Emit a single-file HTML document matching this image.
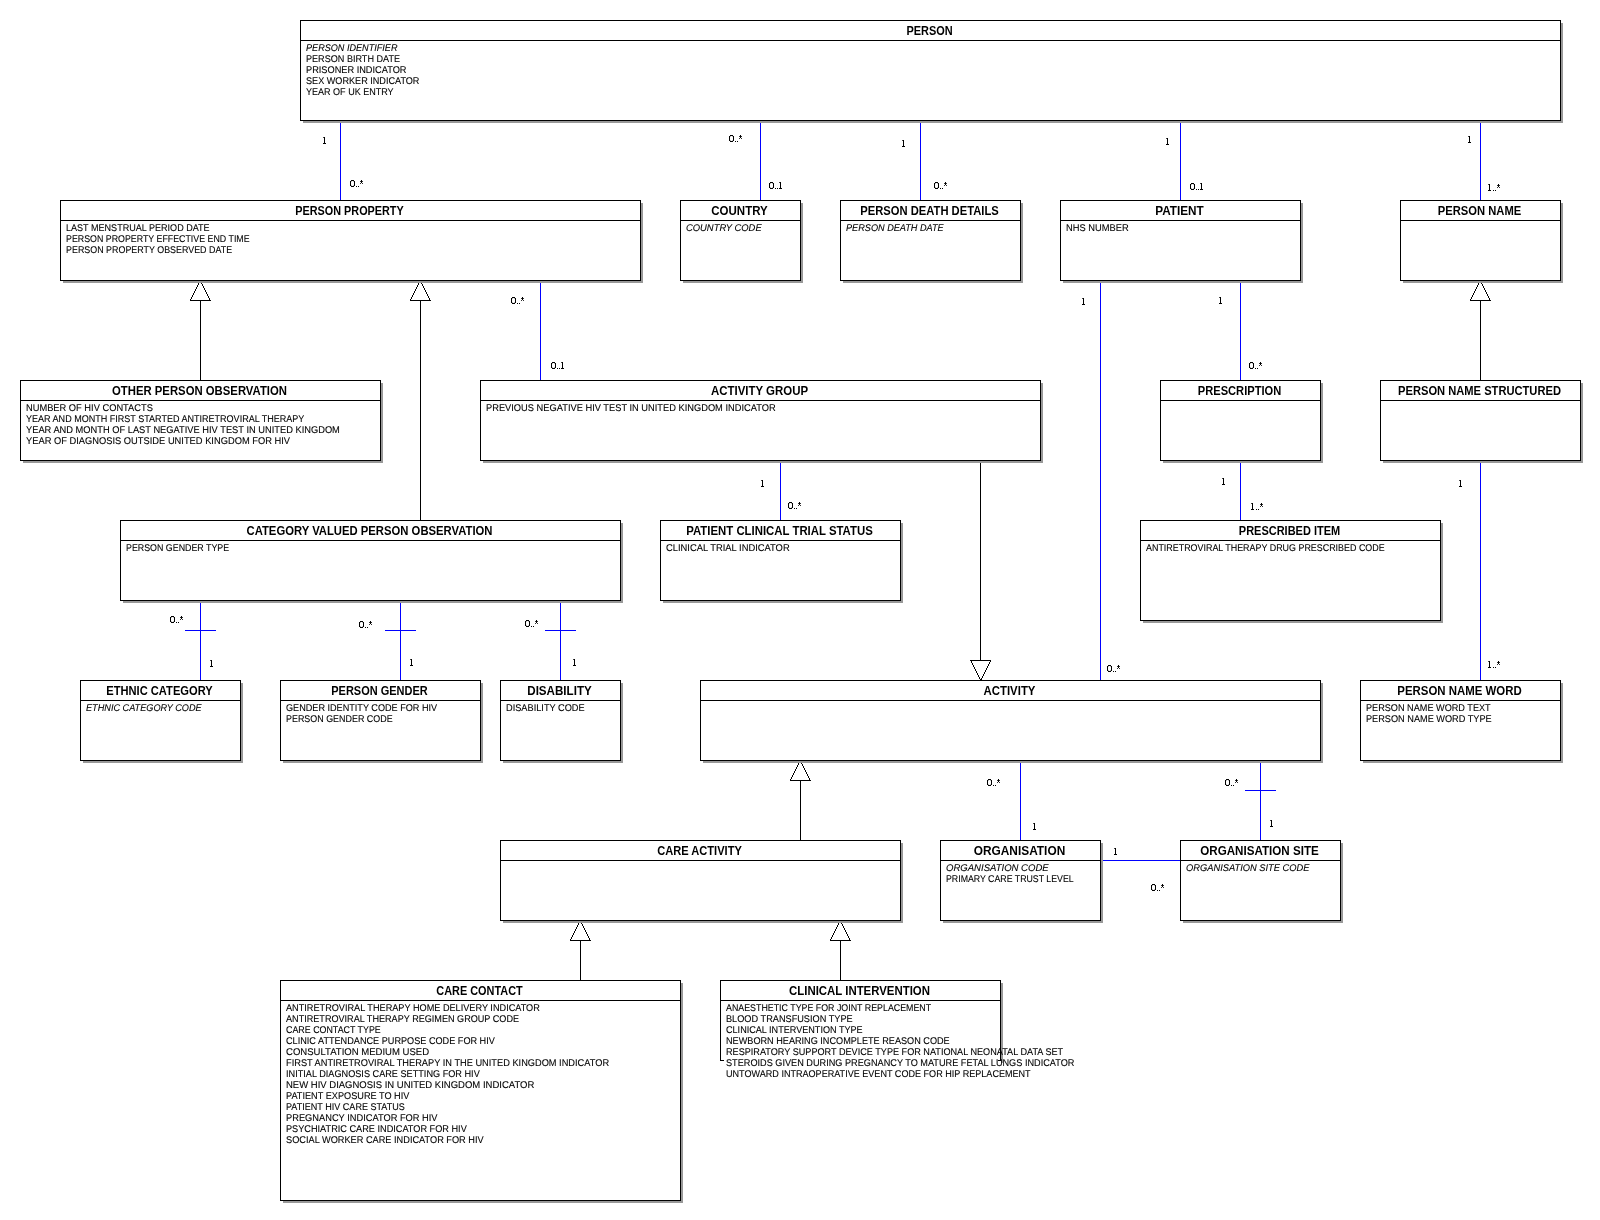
<!DOCTYPE html>
<html><head><meta charset="utf-8"><title>HIV data model</title><style>
html,body{margin:0;padding:0;background:#fff;width:1600px;height:1220px;overflow:hidden}
#c{position:relative;width:1600px;height:1220px}
#tl{position:absolute;left:0;top:0;width:1600px;height:1220px;will-change:transform}
.h,.a,.l{position:absolute;font-family:"Liberation Sans",sans-serif;color:#000;white-space:nowrap}
.h{font-weight:bold;font-size:12px;line-height:20px;text-align:center;transform:scaleX(0.925)}
.a{font-size:9.75px;line-height:11px;transform:scaleX(0.92);transform-origin:0 0;text-rendering:geometricPrecision;-webkit-text-stroke:0.1px #000}
.i{font-style:italic}
.l{font-size:9.75px;line-height:11px;transform:scaleX(0.92);transform-origin:0 0}
</style></head>
<body><div id="c">
<svg width="1600" height="1220" style="position:absolute;left:0;top:0" shape-rendering="crispEdges">
<line x1="340.5" y1="120" x2="340.5" y2="200" stroke="#0000ff" stroke-width="1"/>
<line x1="760.5" y1="120" x2="760.5" y2="200" stroke="#0000ff" stroke-width="1"/>
<line x1="920.5" y1="120" x2="920.5" y2="200" stroke="#0000ff" stroke-width="1"/>
<line x1="1180.5" y1="120" x2="1180.5" y2="200" stroke="#0000ff" stroke-width="1"/>
<line x1="1480.5" y1="120" x2="1480.5" y2="200" stroke="#0000ff" stroke-width="1"/>
<line x1="540.5" y1="280" x2="540.5" y2="380" stroke="#0000ff" stroke-width="1"/>
<line x1="1100.5" y1="280" x2="1100.5" y2="680" stroke="#0000ff" stroke-width="1"/>
<line x1="1240.5" y1="280" x2="1240.5" y2="380" stroke="#0000ff" stroke-width="1"/>
<line x1="780.5" y1="460" x2="780.5" y2="520" stroke="#0000ff" stroke-width="1"/>
<line x1="1240.5" y1="460" x2="1240.5" y2="520" stroke="#0000ff" stroke-width="1"/>
<line x1="1480.5" y1="460" x2="1480.5" y2="680" stroke="#0000ff" stroke-width="1"/>
<line x1="200.5" y1="600" x2="200.5" y2="680" stroke="#0000ff" stroke-width="1"/>
<line x1="400.5" y1="600" x2="400.5" y2="680" stroke="#0000ff" stroke-width="1"/>
<line x1="560.5" y1="600" x2="560.5" y2="680" stroke="#0000ff" stroke-width="1"/>
<line x1="1020.5" y1="760" x2="1020.5" y2="840" stroke="#0000ff" stroke-width="1"/>
<line x1="1260.5" y1="760" x2="1260.5" y2="840" stroke="#0000ff" stroke-width="1"/>
<line x1="1100" y1="860.5" x2="1180" y2="860.5" stroke="#0000ff" stroke-width="1"/>
<line x1="185" y1="630.5" x2="216" y2="630.5" stroke="#0000ff" stroke-width="1"/>
<line x1="385" y1="630.5" x2="416" y2="630.5" stroke="#0000ff" stroke-width="1"/>
<line x1="545" y1="630.5" x2="576" y2="630.5" stroke="#0000ff" stroke-width="1"/>
<line x1="1245" y1="790.5" x2="1276" y2="790.5" stroke="#0000ff" stroke-width="1"/>
<line x1="200.5" y1="380" x2="200.5" y2="300" stroke="#000" stroke-width="1"/>
<line x1="420.5" y1="520" x2="420.5" y2="300" stroke="#000" stroke-width="1"/>
<line x1="1480.5" y1="380" x2="1480.5" y2="300" stroke="#000" stroke-width="1"/>
<line x1="800.5" y1="840" x2="800.5" y2="780" stroke="#000" stroke-width="1"/>
<line x1="580.5" y1="980" x2="580.5" y2="940" stroke="#000" stroke-width="1"/>
<line x1="840.5" y1="980" x2="840.5" y2="940" stroke="#000" stroke-width="1"/>
<line x1="980.5" y1="460" x2="980.5" y2="660" stroke="#000" stroke-width="1"/>
<path fill="#000" d="M200 280h1v1h-1zM199 281h1v1h-1zM200 281h1v1h-1zM199 282h1v1h-1zM201 282h1v1h-1zM198 283h1v1h-1zM201 283h1v1h-1zM198 284h1v1h-1zM202 284h1v1h-1zM197 285h1v1h-1zM202 285h1v1h-1zM197 286h1v1h-1zM203 286h1v1h-1zM196 287h1v1h-1zM203 287h1v1h-1zM196 288h1v1h-1zM204 288h1v1h-1zM195 289h1v1h-1zM204 289h1v1h-1zM195 290h1v1h-1zM205 290h1v1h-1zM194 291h1v1h-1zM205 291h1v1h-1zM194 292h1v1h-1zM206 292h1v1h-1zM193 293h1v1h-1zM206 293h1v1h-1zM193 294h1v1h-1zM207 294h1v1h-1zM192 295h1v1h-1zM207 295h1v1h-1zM192 296h1v1h-1zM208 296h1v1h-1zM191 297h1v1h-1zM208 297h1v1h-1zM191 298h1v1h-1zM209 298h1v1h-1zM190 299h1v1h-1zM209 299h1v1h-1zM190 300h1v1h-1zM210 300h1v1h-1zM190 300h21v1h-21zM420 280h1v1h-1zM419 281h1v1h-1zM420 281h1v1h-1zM419 282h1v1h-1zM421 282h1v1h-1zM418 283h1v1h-1zM421 283h1v1h-1zM418 284h1v1h-1zM422 284h1v1h-1zM417 285h1v1h-1zM422 285h1v1h-1zM417 286h1v1h-1zM423 286h1v1h-1zM416 287h1v1h-1zM423 287h1v1h-1zM416 288h1v1h-1zM424 288h1v1h-1zM415 289h1v1h-1zM424 289h1v1h-1zM415 290h1v1h-1zM425 290h1v1h-1zM414 291h1v1h-1zM425 291h1v1h-1zM414 292h1v1h-1zM426 292h1v1h-1zM413 293h1v1h-1zM426 293h1v1h-1zM413 294h1v1h-1zM427 294h1v1h-1zM412 295h1v1h-1zM427 295h1v1h-1zM412 296h1v1h-1zM428 296h1v1h-1zM411 297h1v1h-1zM428 297h1v1h-1zM411 298h1v1h-1zM429 298h1v1h-1zM410 299h1v1h-1zM429 299h1v1h-1zM410 300h1v1h-1zM430 300h1v1h-1zM410 300h21v1h-21zM1480 280h1v1h-1zM1479 281h1v1h-1zM1480 281h1v1h-1zM1479 282h1v1h-1zM1481 282h1v1h-1zM1478 283h1v1h-1zM1481 283h1v1h-1zM1478 284h1v1h-1zM1482 284h1v1h-1zM1477 285h1v1h-1zM1482 285h1v1h-1zM1477 286h1v1h-1zM1483 286h1v1h-1zM1476 287h1v1h-1zM1483 287h1v1h-1zM1476 288h1v1h-1zM1484 288h1v1h-1zM1475 289h1v1h-1zM1484 289h1v1h-1zM1475 290h1v1h-1zM1485 290h1v1h-1zM1474 291h1v1h-1zM1485 291h1v1h-1zM1474 292h1v1h-1zM1486 292h1v1h-1zM1473 293h1v1h-1zM1486 293h1v1h-1zM1473 294h1v1h-1zM1487 294h1v1h-1zM1472 295h1v1h-1zM1487 295h1v1h-1zM1472 296h1v1h-1zM1488 296h1v1h-1zM1471 297h1v1h-1zM1488 297h1v1h-1zM1471 298h1v1h-1zM1489 298h1v1h-1zM1470 299h1v1h-1zM1489 299h1v1h-1zM1470 300h1v1h-1zM1490 300h1v1h-1zM1470 300h21v1h-21zM800 760h1v1h-1zM799 761h1v1h-1zM800 761h1v1h-1zM799 762h1v1h-1zM801 762h1v1h-1zM798 763h1v1h-1zM801 763h1v1h-1zM798 764h1v1h-1zM802 764h1v1h-1zM797 765h1v1h-1zM802 765h1v1h-1zM797 766h1v1h-1zM803 766h1v1h-1zM796 767h1v1h-1zM803 767h1v1h-1zM796 768h1v1h-1zM804 768h1v1h-1zM795 769h1v1h-1zM804 769h1v1h-1zM795 770h1v1h-1zM805 770h1v1h-1zM794 771h1v1h-1zM805 771h1v1h-1zM794 772h1v1h-1zM806 772h1v1h-1zM793 773h1v1h-1zM806 773h1v1h-1zM793 774h1v1h-1zM807 774h1v1h-1zM792 775h1v1h-1zM807 775h1v1h-1zM792 776h1v1h-1zM808 776h1v1h-1zM791 777h1v1h-1zM808 777h1v1h-1zM791 778h1v1h-1zM809 778h1v1h-1zM790 779h1v1h-1zM809 779h1v1h-1zM790 780h1v1h-1zM810 780h1v1h-1zM790 780h21v1h-21zM580 920h1v1h-1zM579 921h1v1h-1zM580 921h1v1h-1zM579 922h1v1h-1zM581 922h1v1h-1zM578 923h1v1h-1zM581 923h1v1h-1zM578 924h1v1h-1zM582 924h1v1h-1zM577 925h1v1h-1zM582 925h1v1h-1zM577 926h1v1h-1zM583 926h1v1h-1zM576 927h1v1h-1zM583 927h1v1h-1zM576 928h1v1h-1zM584 928h1v1h-1zM575 929h1v1h-1zM584 929h1v1h-1zM575 930h1v1h-1zM585 930h1v1h-1zM574 931h1v1h-1zM585 931h1v1h-1zM574 932h1v1h-1zM586 932h1v1h-1zM573 933h1v1h-1zM586 933h1v1h-1zM573 934h1v1h-1zM587 934h1v1h-1zM572 935h1v1h-1zM587 935h1v1h-1zM572 936h1v1h-1zM588 936h1v1h-1zM571 937h1v1h-1zM588 937h1v1h-1zM571 938h1v1h-1zM589 938h1v1h-1zM570 939h1v1h-1zM589 939h1v1h-1zM570 940h1v1h-1zM590 940h1v1h-1zM570 940h21v1h-21zM840 920h1v1h-1zM839 921h1v1h-1zM840 921h1v1h-1zM839 922h1v1h-1zM841 922h1v1h-1zM838 923h1v1h-1zM841 923h1v1h-1zM838 924h1v1h-1zM842 924h1v1h-1zM837 925h1v1h-1zM842 925h1v1h-1zM837 926h1v1h-1zM843 926h1v1h-1zM836 927h1v1h-1zM843 927h1v1h-1zM836 928h1v1h-1zM844 928h1v1h-1zM835 929h1v1h-1zM844 929h1v1h-1zM835 930h1v1h-1zM845 930h1v1h-1zM834 931h1v1h-1zM845 931h1v1h-1zM834 932h1v1h-1zM846 932h1v1h-1zM833 933h1v1h-1zM846 933h1v1h-1zM833 934h1v1h-1zM847 934h1v1h-1zM832 935h1v1h-1zM847 935h1v1h-1zM832 936h1v1h-1zM848 936h1v1h-1zM831 937h1v1h-1zM848 937h1v1h-1zM831 938h1v1h-1zM849 938h1v1h-1zM830 939h1v1h-1zM849 939h1v1h-1zM830 940h1v1h-1zM850 940h1v1h-1zM830 940h21v1h-21zM980 680h1v1h-1zM980 679h1v1h-1zM981 679h1v1h-1zM979 678h1v1h-1zM981 678h1v1h-1zM979 677h1v1h-1zM982 677h1v1h-1zM978 676h1v1h-1zM982 676h1v1h-1zM978 675h1v1h-1zM983 675h1v1h-1zM977 674h1v1h-1zM983 674h1v1h-1zM977 673h1v1h-1zM984 673h1v1h-1zM976 672h1v1h-1zM984 672h1v1h-1zM976 671h1v1h-1zM985 671h1v1h-1zM975 670h1v1h-1zM985 670h1v1h-1zM975 669h1v1h-1zM986 669h1v1h-1zM974 668h1v1h-1zM986 668h1v1h-1zM974 667h1v1h-1zM987 667h1v1h-1zM973 666h1v1h-1zM987 666h1v1h-1zM973 665h1v1h-1zM988 665h1v1h-1zM972 664h1v1h-1zM988 664h1v1h-1zM972 663h1v1h-1zM989 663h1v1h-1zM971 662h1v1h-1zM989 662h1v1h-1zM971 661h1v1h-1zM990 661h1v1h-1zM970 660h1v1h-1zM990 660h1v1h-1zM970 660h21v1h-21z"/>
<rect x="303" y="23" width="1260" height="100" fill="#999"/>
<rect x="300.5" y="20.5" width="1260" height="100" fill="#fff" stroke="#000" stroke-width="1"/>
<line x1="300" y1="40.5" x2="1561" y2="40.5" stroke="#000" stroke-width="1"/>
<rect x="63" y="203" width="580" height="80" fill="#999"/>
<rect x="60.5" y="200.5" width="580" height="80" fill="#fff" stroke="#000" stroke-width="1"/>
<line x1="60" y1="220.5" x2="641" y2="220.5" stroke="#000" stroke-width="1"/>
<rect x="683" y="203" width="120" height="80" fill="#999"/>
<rect x="680.5" y="200.5" width="120" height="80" fill="#fff" stroke="#000" stroke-width="1"/>
<line x1="680" y1="220.5" x2="801" y2="220.5" stroke="#000" stroke-width="1"/>
<rect x="843" y="203" width="180" height="80" fill="#999"/>
<rect x="840.5" y="200.5" width="180" height="80" fill="#fff" stroke="#000" stroke-width="1"/>
<line x1="840" y1="220.5" x2="1021" y2="220.5" stroke="#000" stroke-width="1"/>
<rect x="1063" y="203" width="240" height="80" fill="#999"/>
<rect x="1060.5" y="200.5" width="240" height="80" fill="#fff" stroke="#000" stroke-width="1"/>
<line x1="1060" y1="220.5" x2="1301" y2="220.5" stroke="#000" stroke-width="1"/>
<rect x="1403" y="203" width="160" height="80" fill="#999"/>
<rect x="1400.5" y="200.5" width="160" height="80" fill="#fff" stroke="#000" stroke-width="1"/>
<line x1="1400" y1="220.5" x2="1561" y2="220.5" stroke="#000" stroke-width="1"/>
<rect x="23" y="383" width="360" height="80" fill="#999"/>
<rect x="20.5" y="380.5" width="360" height="80" fill="#fff" stroke="#000" stroke-width="1"/>
<line x1="20" y1="400.5" x2="381" y2="400.5" stroke="#000" stroke-width="1"/>
<rect x="483" y="383" width="560" height="80" fill="#999"/>
<rect x="480.5" y="380.5" width="560" height="80" fill="#fff" stroke="#000" stroke-width="1"/>
<line x1="480" y1="400.5" x2="1041" y2="400.5" stroke="#000" stroke-width="1"/>
<rect x="1163" y="383" width="160" height="80" fill="#999"/>
<rect x="1160.5" y="380.5" width="160" height="80" fill="#fff" stroke="#000" stroke-width="1"/>
<line x1="1160" y1="400.5" x2="1321" y2="400.5" stroke="#000" stroke-width="1"/>
<rect x="1383" y="383" width="200" height="80" fill="#999"/>
<rect x="1380.5" y="380.5" width="200" height="80" fill="#fff" stroke="#000" stroke-width="1"/>
<line x1="1380" y1="400.5" x2="1581" y2="400.5" stroke="#000" stroke-width="1"/>
<rect x="123" y="523" width="500" height="80" fill="#999"/>
<rect x="120.5" y="520.5" width="500" height="80" fill="#fff" stroke="#000" stroke-width="1"/>
<line x1="120" y1="540.5" x2="621" y2="540.5" stroke="#000" stroke-width="1"/>
<rect x="663" y="523" width="240" height="80" fill="#999"/>
<rect x="660.5" y="520.5" width="240" height="80" fill="#fff" stroke="#000" stroke-width="1"/>
<line x1="660" y1="540.5" x2="901" y2="540.5" stroke="#000" stroke-width="1"/>
<rect x="1143" y="523" width="300" height="100" fill="#999"/>
<rect x="1140.5" y="520.5" width="300" height="100" fill="#fff" stroke="#000" stroke-width="1"/>
<line x1="1140" y1="540.5" x2="1441" y2="540.5" stroke="#000" stroke-width="1"/>
<rect x="83" y="683" width="160" height="80" fill="#999"/>
<rect x="80.5" y="680.5" width="160" height="80" fill="#fff" stroke="#000" stroke-width="1"/>
<line x1="80" y1="700.5" x2="241" y2="700.5" stroke="#000" stroke-width="1"/>
<rect x="283" y="683" width="200" height="80" fill="#999"/>
<rect x="280.5" y="680.5" width="200" height="80" fill="#fff" stroke="#000" stroke-width="1"/>
<line x1="280" y1="700.5" x2="481" y2="700.5" stroke="#000" stroke-width="1"/>
<rect x="503" y="683" width="120" height="80" fill="#999"/>
<rect x="500.5" y="680.5" width="120" height="80" fill="#fff" stroke="#000" stroke-width="1"/>
<line x1="500" y1="700.5" x2="621" y2="700.5" stroke="#000" stroke-width="1"/>
<rect x="703" y="683" width="620" height="80" fill="#999"/>
<rect x="700.5" y="680.5" width="620" height="80" fill="#fff" stroke="#000" stroke-width="1"/>
<line x1="700" y1="700.5" x2="1321" y2="700.5" stroke="#000" stroke-width="1"/>
<rect x="1363" y="683" width="200" height="80" fill="#999"/>
<rect x="1360.5" y="680.5" width="200" height="80" fill="#fff" stroke="#000" stroke-width="1"/>
<line x1="1360" y1="700.5" x2="1561" y2="700.5" stroke="#000" stroke-width="1"/>
<rect x="503" y="843" width="400" height="80" fill="#999"/>
<rect x="500.5" y="840.5" width="400" height="80" fill="#fff" stroke="#000" stroke-width="1"/>
<line x1="500" y1="860.5" x2="901" y2="860.5" stroke="#000" stroke-width="1"/>
<rect x="943" y="843" width="160" height="80" fill="#999"/>
<rect x="940.5" y="840.5" width="160" height="80" fill="#fff" stroke="#000" stroke-width="1"/>
<line x1="940" y1="860.5" x2="1101" y2="860.5" stroke="#000" stroke-width="1"/>
<rect x="1183" y="843" width="160" height="80" fill="#999"/>
<rect x="1180.5" y="840.5" width="160" height="80" fill="#fff" stroke="#000" stroke-width="1"/>
<line x1="1180" y1="860.5" x2="1341" y2="860.5" stroke="#000" stroke-width="1"/>
<rect x="283" y="983" width="400" height="220" fill="#999"/>
<rect x="280.5" y="980.5" width="400" height="220" fill="#fff" stroke="#000" stroke-width="1"/>
<line x1="280" y1="1000.5" x2="681" y2="1000.5" stroke="#000" stroke-width="1"/>
<rect x="1001" y="983" width="2" height="80" fill="#999"/>
<rect x="720.5" y="980.5" width="280" height="80" fill="#fff" stroke="none"/>
<path d="M723.5 1060.5 L720.5 1060.5 L720.5 980.5 L1000.5 980.5 L1000.5 1060.5 L997.5 1060.5" fill="none" stroke="#000" stroke-width="1"/>
<line x1="720" y1="1000.5" x2="1001" y2="1000.5" stroke="#000" stroke-width="1"/>
<path fill="#000" d="M324 137h1v1h-1zM324 138h1v1h-1zM324 139h1v1h-1zM324 140h1v1h-1zM324 141h1v1h-1zM324 142h1v1h-1zM324 143h1v1h-1zM323 143h1v1h-1zM325 143h1v1h-1zM351 180h1v1h-1zM352 180h1v1h-1zM353 180h1v1h-1zM350 181h1v1h-1zM350 182h1v1h-1zM350 183h1v1h-1zM350 184h1v1h-1zM350 185h1v1h-1zM354 181h1v1h-1zM354 182h1v1h-1zM354 183h1v1h-1zM354 184h1v1h-1zM354 185h1v1h-1zM351 186h1v1h-1zM352 186h1v1h-1zM353 186h1v1h-1zM356 186h1v1h-1zM358 186h1v1h-1zM361 180h1v1h-1zM361 181h1v1h-1zM361 182h1v1h-1zM730 135h1v1h-1zM731 135h1v1h-1zM732 135h1v1h-1zM729 136h1v1h-1zM729 137h1v1h-1zM729 138h1v1h-1zM729 139h1v1h-1zM729 140h1v1h-1zM733 136h1v1h-1zM733 137h1v1h-1zM733 138h1v1h-1zM733 139h1v1h-1zM733 140h1v1h-1zM730 141h1v1h-1zM731 141h1v1h-1zM732 141h1v1h-1zM735 141h1v1h-1zM737 141h1v1h-1zM740 135h1v1h-1zM740 136h1v1h-1zM740 137h1v1h-1zM770 182h1v1h-1zM771 182h1v1h-1zM772 182h1v1h-1zM769 183h1v1h-1zM769 184h1v1h-1zM769 185h1v1h-1zM769 186h1v1h-1zM769 187h1v1h-1zM773 183h1v1h-1zM773 184h1v1h-1zM773 185h1v1h-1zM773 186h1v1h-1zM773 187h1v1h-1zM770 188h1v1h-1zM771 188h1v1h-1zM772 188h1v1h-1zM775 188h1v1h-1zM777 188h1v1h-1zM780 182h1v1h-1zM780 183h1v1h-1zM780 184h1v1h-1zM780 185h1v1h-1zM780 186h1v1h-1zM780 187h1v1h-1zM780 188h1v1h-1zM779 188h1v1h-1zM781 188h1v1h-1zM903 140h1v1h-1zM903 141h1v1h-1zM903 142h1v1h-1zM903 143h1v1h-1zM903 144h1v1h-1zM903 145h1v1h-1zM903 146h1v1h-1zM902 146h1v1h-1zM904 146h1v1h-1zM935 182h1v1h-1zM936 182h1v1h-1zM937 182h1v1h-1zM934 183h1v1h-1zM934 184h1v1h-1zM934 185h1v1h-1zM934 186h1v1h-1zM934 187h1v1h-1zM938 183h1v1h-1zM938 184h1v1h-1zM938 185h1v1h-1zM938 186h1v1h-1zM938 187h1v1h-1zM935 188h1v1h-1zM936 188h1v1h-1zM937 188h1v1h-1zM940 188h1v1h-1zM942 188h1v1h-1zM945 182h1v1h-1zM945 183h1v1h-1zM945 184h1v1h-1zM1167 138h1v1h-1zM1167 139h1v1h-1zM1167 140h1v1h-1zM1167 141h1v1h-1zM1167 142h1v1h-1zM1167 143h1v1h-1zM1167 144h1v1h-1zM1166 144h1v1h-1zM1168 144h1v1h-1zM1191 183h1v1h-1zM1192 183h1v1h-1zM1193 183h1v1h-1zM1190 184h1v1h-1zM1190 185h1v1h-1zM1190 186h1v1h-1zM1190 187h1v1h-1zM1190 188h1v1h-1zM1194 184h1v1h-1zM1194 185h1v1h-1zM1194 186h1v1h-1zM1194 187h1v1h-1zM1194 188h1v1h-1zM1191 189h1v1h-1zM1192 189h1v1h-1zM1193 189h1v1h-1zM1196 189h1v1h-1zM1198 189h1v1h-1zM1201 183h1v1h-1zM1201 184h1v1h-1zM1201 185h1v1h-1zM1201 186h1v1h-1zM1201 187h1v1h-1zM1201 188h1v1h-1zM1201 189h1v1h-1zM1200 189h1v1h-1zM1202 189h1v1h-1zM1469 136h1v1h-1zM1469 137h1v1h-1zM1469 138h1v1h-1zM1469 139h1v1h-1zM1469 140h1v1h-1zM1469 141h1v1h-1zM1469 142h1v1h-1zM1468 142h1v1h-1zM1470 142h1v1h-1zM1489 184h1v1h-1zM1489 185h1v1h-1zM1489 186h1v1h-1zM1489 187h1v1h-1zM1489 188h1v1h-1zM1489 189h1v1h-1zM1489 190h1v1h-1zM1488 190h1v1h-1zM1490 190h1v1h-1zM1493 190h1v1h-1zM1495 190h1v1h-1zM1498 184h1v1h-1zM1498 185h1v1h-1zM1498 186h1v1h-1zM512 297h1v1h-1zM513 297h1v1h-1zM514 297h1v1h-1zM511 298h1v1h-1zM511 299h1v1h-1zM511 300h1v1h-1zM511 301h1v1h-1zM511 302h1v1h-1zM515 298h1v1h-1zM515 299h1v1h-1zM515 300h1v1h-1zM515 301h1v1h-1zM515 302h1v1h-1zM512 303h1v1h-1zM513 303h1v1h-1zM514 303h1v1h-1zM517 303h1v1h-1zM519 303h1v1h-1zM522 297h1v1h-1zM522 298h1v1h-1zM522 299h1v1h-1zM552 362h1v1h-1zM553 362h1v1h-1zM554 362h1v1h-1zM551 363h1v1h-1zM551 364h1v1h-1zM551 365h1v1h-1zM551 366h1v1h-1zM551 367h1v1h-1zM555 363h1v1h-1zM555 364h1v1h-1zM555 365h1v1h-1zM555 366h1v1h-1zM555 367h1v1h-1zM552 368h1v1h-1zM553 368h1v1h-1zM554 368h1v1h-1zM557 368h1v1h-1zM559 368h1v1h-1zM562 362h1v1h-1zM562 363h1v1h-1zM562 364h1v1h-1zM562 365h1v1h-1zM562 366h1v1h-1zM562 367h1v1h-1zM562 368h1v1h-1zM561 368h1v1h-1zM563 368h1v1h-1zM1083 298h1v1h-1zM1083 299h1v1h-1zM1083 300h1v1h-1zM1083 301h1v1h-1zM1083 302h1v1h-1zM1083 303h1v1h-1zM1083 304h1v1h-1zM1082 304h1v1h-1zM1084 304h1v1h-1zM1108 665h1v1h-1zM1109 665h1v1h-1zM1110 665h1v1h-1zM1107 666h1v1h-1zM1107 667h1v1h-1zM1107 668h1v1h-1zM1107 669h1v1h-1zM1107 670h1v1h-1zM1111 666h1v1h-1zM1111 667h1v1h-1zM1111 668h1v1h-1zM1111 669h1v1h-1zM1111 670h1v1h-1zM1108 671h1v1h-1zM1109 671h1v1h-1zM1110 671h1v1h-1zM1113 671h1v1h-1zM1115 671h1v1h-1zM1118 665h1v1h-1zM1118 666h1v1h-1zM1118 667h1v1h-1zM1220 297h1v1h-1zM1220 298h1v1h-1zM1220 299h1v1h-1zM1220 300h1v1h-1zM1220 301h1v1h-1zM1220 302h1v1h-1zM1220 303h1v1h-1zM1219 303h1v1h-1zM1221 303h1v1h-1zM1250 362h1v1h-1zM1251 362h1v1h-1zM1252 362h1v1h-1zM1249 363h1v1h-1zM1249 364h1v1h-1zM1249 365h1v1h-1zM1249 366h1v1h-1zM1249 367h1v1h-1zM1253 363h1v1h-1zM1253 364h1v1h-1zM1253 365h1v1h-1zM1253 366h1v1h-1zM1253 367h1v1h-1zM1250 368h1v1h-1zM1251 368h1v1h-1zM1252 368h1v1h-1zM1255 368h1v1h-1zM1257 368h1v1h-1zM1260 362h1v1h-1zM1260 363h1v1h-1zM1260 364h1v1h-1zM762 480h1v1h-1zM762 481h1v1h-1zM762 482h1v1h-1zM762 483h1v1h-1zM762 484h1v1h-1zM762 485h1v1h-1zM762 486h1v1h-1zM761 486h1v1h-1zM763 486h1v1h-1zM789 502h1v1h-1zM790 502h1v1h-1zM791 502h1v1h-1zM788 503h1v1h-1zM788 504h1v1h-1zM788 505h1v1h-1zM788 506h1v1h-1zM788 507h1v1h-1zM792 503h1v1h-1zM792 504h1v1h-1zM792 505h1v1h-1zM792 506h1v1h-1zM792 507h1v1h-1zM789 508h1v1h-1zM790 508h1v1h-1zM791 508h1v1h-1zM794 508h1v1h-1zM796 508h1v1h-1zM799 502h1v1h-1zM799 503h1v1h-1zM799 504h1v1h-1zM1223 478h1v1h-1zM1223 479h1v1h-1zM1223 480h1v1h-1zM1223 481h1v1h-1zM1223 482h1v1h-1zM1223 483h1v1h-1zM1223 484h1v1h-1zM1222 484h1v1h-1zM1224 484h1v1h-1zM1252 503h1v1h-1zM1252 504h1v1h-1zM1252 505h1v1h-1zM1252 506h1v1h-1zM1252 507h1v1h-1zM1252 508h1v1h-1zM1252 509h1v1h-1zM1251 509h1v1h-1zM1253 509h1v1h-1zM1256 509h1v1h-1zM1258 509h1v1h-1zM1261 503h1v1h-1zM1261 504h1v1h-1zM1261 505h1v1h-1zM1460 480h1v1h-1zM1460 481h1v1h-1zM1460 482h1v1h-1zM1460 483h1v1h-1zM1460 484h1v1h-1zM1460 485h1v1h-1zM1460 486h1v1h-1zM1459 486h1v1h-1zM1461 486h1v1h-1zM1489 661h1v1h-1zM1489 662h1v1h-1zM1489 663h1v1h-1zM1489 664h1v1h-1zM1489 665h1v1h-1zM1489 666h1v1h-1zM1489 667h1v1h-1zM1488 667h1v1h-1zM1490 667h1v1h-1zM1493 667h1v1h-1zM1495 667h1v1h-1zM1498 661h1v1h-1zM1498 662h1v1h-1zM1498 663h1v1h-1zM171 616h1v1h-1zM172 616h1v1h-1zM173 616h1v1h-1zM170 617h1v1h-1zM170 618h1v1h-1zM170 619h1v1h-1zM170 620h1v1h-1zM170 621h1v1h-1zM174 617h1v1h-1zM174 618h1v1h-1zM174 619h1v1h-1zM174 620h1v1h-1zM174 621h1v1h-1zM171 622h1v1h-1zM172 622h1v1h-1zM173 622h1v1h-1zM176 622h1v1h-1zM178 622h1v1h-1zM181 616h1v1h-1zM181 617h1v1h-1zM181 618h1v1h-1zM211 660h1v1h-1zM211 661h1v1h-1zM211 662h1v1h-1zM211 663h1v1h-1zM211 664h1v1h-1zM211 665h1v1h-1zM211 666h1v1h-1zM210 666h1v1h-1zM212 666h1v1h-1zM360 621h1v1h-1zM361 621h1v1h-1zM362 621h1v1h-1zM359 622h1v1h-1zM359 623h1v1h-1zM359 624h1v1h-1zM359 625h1v1h-1zM359 626h1v1h-1zM363 622h1v1h-1zM363 623h1v1h-1zM363 624h1v1h-1zM363 625h1v1h-1zM363 626h1v1h-1zM360 627h1v1h-1zM361 627h1v1h-1zM362 627h1v1h-1zM365 627h1v1h-1zM367 627h1v1h-1zM370 621h1v1h-1zM370 622h1v1h-1zM370 623h1v1h-1zM411 659h1v1h-1zM411 660h1v1h-1zM411 661h1v1h-1zM411 662h1v1h-1zM411 663h1v1h-1zM411 664h1v1h-1zM411 665h1v1h-1zM410 665h1v1h-1zM412 665h1v1h-1zM526 620h1v1h-1zM527 620h1v1h-1zM528 620h1v1h-1zM525 621h1v1h-1zM525 622h1v1h-1zM525 623h1v1h-1zM525 624h1v1h-1zM525 625h1v1h-1zM529 621h1v1h-1zM529 622h1v1h-1zM529 623h1v1h-1zM529 624h1v1h-1zM529 625h1v1h-1zM526 626h1v1h-1zM527 626h1v1h-1zM528 626h1v1h-1zM531 626h1v1h-1zM533 626h1v1h-1zM536 620h1v1h-1zM536 621h1v1h-1zM536 622h1v1h-1zM574 659h1v1h-1zM574 660h1v1h-1zM574 661h1v1h-1zM574 662h1v1h-1zM574 663h1v1h-1zM574 664h1v1h-1zM574 665h1v1h-1zM573 665h1v1h-1zM575 665h1v1h-1zM988 779h1v1h-1zM989 779h1v1h-1zM990 779h1v1h-1zM987 780h1v1h-1zM987 781h1v1h-1zM987 782h1v1h-1zM987 783h1v1h-1zM987 784h1v1h-1zM991 780h1v1h-1zM991 781h1v1h-1zM991 782h1v1h-1zM991 783h1v1h-1zM991 784h1v1h-1zM988 785h1v1h-1zM989 785h1v1h-1zM990 785h1v1h-1zM993 785h1v1h-1zM995 785h1v1h-1zM998 779h1v1h-1zM998 780h1v1h-1zM998 781h1v1h-1zM1034 823h1v1h-1zM1034 824h1v1h-1zM1034 825h1v1h-1zM1034 826h1v1h-1zM1034 827h1v1h-1zM1034 828h1v1h-1zM1034 829h1v1h-1zM1033 829h1v1h-1zM1035 829h1v1h-1zM1226 779h1v1h-1zM1227 779h1v1h-1zM1228 779h1v1h-1zM1225 780h1v1h-1zM1225 781h1v1h-1zM1225 782h1v1h-1zM1225 783h1v1h-1zM1225 784h1v1h-1zM1229 780h1v1h-1zM1229 781h1v1h-1zM1229 782h1v1h-1zM1229 783h1v1h-1zM1229 784h1v1h-1zM1226 785h1v1h-1zM1227 785h1v1h-1zM1228 785h1v1h-1zM1231 785h1v1h-1zM1233 785h1v1h-1zM1236 779h1v1h-1zM1236 780h1v1h-1zM1236 781h1v1h-1zM1271 820h1v1h-1zM1271 821h1v1h-1zM1271 822h1v1h-1zM1271 823h1v1h-1zM1271 824h1v1h-1zM1271 825h1v1h-1zM1271 826h1v1h-1zM1270 826h1v1h-1zM1272 826h1v1h-1zM1115 848h1v1h-1zM1115 849h1v1h-1zM1115 850h1v1h-1zM1115 851h1v1h-1zM1115 852h1v1h-1zM1115 853h1v1h-1zM1115 854h1v1h-1zM1114 854h1v1h-1zM1116 854h1v1h-1zM1152 884h1v1h-1zM1153 884h1v1h-1zM1154 884h1v1h-1zM1151 885h1v1h-1zM1151 886h1v1h-1zM1151 887h1v1h-1zM1151 888h1v1h-1zM1151 889h1v1h-1zM1155 885h1v1h-1zM1155 886h1v1h-1zM1155 887h1v1h-1zM1155 888h1v1h-1zM1155 889h1v1h-1zM1152 890h1v1h-1zM1153 890h1v1h-1zM1154 890h1v1h-1zM1157 890h1v1h-1zM1159 890h1v1h-1zM1162 884h1v1h-1zM1162 885h1v1h-1zM1162 886h1v1h-1z"/>
<path fill="#444" d="M323 137h1v1h-1zM779 182h1v1h-1zM902 140h1v1h-1zM1166 138h1v1h-1zM1200 183h1v1h-1zM1468 136h1v1h-1zM1488 184h1v1h-1zM561 362h1v1h-1zM1082 298h1v1h-1zM1219 297h1v1h-1zM761 480h1v1h-1zM1222 478h1v1h-1zM1251 503h1v1h-1zM1459 480h1v1h-1zM1488 661h1v1h-1zM210 660h1v1h-1zM410 659h1v1h-1zM573 659h1v1h-1zM1033 823h1v1h-1zM1270 820h1v1h-1zM1114 848h1v1h-1z"/>
<path fill="#333" d="M360 181h1v1h-1zM362 181h1v1h-1zM360 183h1v1h-1zM362 183h1v1h-1zM739 136h1v1h-1zM741 136h1v1h-1zM739 138h1v1h-1zM741 138h1v1h-1zM944 183h1v1h-1zM946 183h1v1h-1zM944 185h1v1h-1zM946 185h1v1h-1zM1497 185h1v1h-1zM1499 185h1v1h-1zM1497 187h1v1h-1zM1499 187h1v1h-1zM521 298h1v1h-1zM523 298h1v1h-1zM521 300h1v1h-1zM523 300h1v1h-1zM1117 666h1v1h-1zM1119 666h1v1h-1zM1117 668h1v1h-1zM1119 668h1v1h-1zM1259 363h1v1h-1zM1261 363h1v1h-1zM1259 365h1v1h-1zM1261 365h1v1h-1zM798 503h1v1h-1zM800 503h1v1h-1zM798 505h1v1h-1zM800 505h1v1h-1zM1260 504h1v1h-1zM1262 504h1v1h-1zM1260 506h1v1h-1zM1262 506h1v1h-1zM1497 662h1v1h-1zM1499 662h1v1h-1zM1497 664h1v1h-1zM1499 664h1v1h-1zM180 617h1v1h-1zM182 617h1v1h-1zM180 619h1v1h-1zM182 619h1v1h-1zM369 622h1v1h-1zM371 622h1v1h-1zM369 624h1v1h-1zM371 624h1v1h-1zM535 621h1v1h-1zM537 621h1v1h-1zM535 623h1v1h-1zM537 623h1v1h-1zM997 780h1v1h-1zM999 780h1v1h-1zM997 782h1v1h-1zM999 782h1v1h-1zM1235 780h1v1h-1zM1237 780h1v1h-1zM1235 782h1v1h-1zM1237 782h1v1h-1zM1161 885h1v1h-1zM1163 885h1v1h-1zM1161 887h1v1h-1zM1163 887h1v1h-1z"/>
<path fill="#b0b0b0" d="M351 181h1v1h-1zM353 181h1v1h-1zM351 185h1v1h-1zM353 185h1v1h-1zM730 136h1v1h-1zM732 136h1v1h-1zM730 140h1v1h-1zM732 140h1v1h-1zM770 183h1v1h-1zM772 183h1v1h-1zM770 187h1v1h-1zM772 187h1v1h-1zM935 183h1v1h-1zM937 183h1v1h-1zM935 187h1v1h-1zM937 187h1v1h-1zM1191 184h1v1h-1zM1193 184h1v1h-1zM1191 188h1v1h-1zM1193 188h1v1h-1zM512 298h1v1h-1zM514 298h1v1h-1zM512 302h1v1h-1zM514 302h1v1h-1zM552 363h1v1h-1zM554 363h1v1h-1zM552 367h1v1h-1zM554 367h1v1h-1zM1108 666h1v1h-1zM1110 666h1v1h-1zM1108 670h1v1h-1zM1110 670h1v1h-1zM1250 363h1v1h-1zM1252 363h1v1h-1zM1250 367h1v1h-1zM1252 367h1v1h-1zM789 503h1v1h-1zM791 503h1v1h-1zM789 507h1v1h-1zM791 507h1v1h-1zM171 617h1v1h-1zM173 617h1v1h-1zM171 621h1v1h-1zM173 621h1v1h-1zM360 622h1v1h-1zM362 622h1v1h-1zM360 626h1v1h-1zM362 626h1v1h-1zM526 621h1v1h-1zM528 621h1v1h-1zM526 625h1v1h-1zM528 625h1v1h-1zM988 780h1v1h-1zM990 780h1v1h-1zM988 784h1v1h-1zM990 784h1v1h-1zM1226 780h1v1h-1zM1228 780h1v1h-1zM1226 784h1v1h-1zM1228 784h1v1h-1zM1152 885h1v1h-1zM1154 885h1v1h-1zM1152 889h1v1h-1zM1154 889h1v1h-1z"/>
</svg>
<div id="tl">
<div class="h" style="left:299px;top:21px;width:1261px;transform:scaleX(0.9117)">PERSON</div>
<div class="a i" style="left:306px;top:43px;transform:scaleX(0.9326)">PERSON IDENTIFIER</div>
<div class="a" style="left:306px;top:54px;transform:scaleX(0.9316)">PERSON BIRTH DATE</div>
<div class="a" style="left:306px;top:65px;transform:scaleX(0.9445)">PRISONER INDICATOR</div>
<div class="a" style="left:306px;top:76px;transform:scaleX(0.9335)">SEX WORKER INDICATOR</div>
<div class="a" style="left:306px;top:87px;transform:scaleX(0.9262)">YEAR OF UK ENTRY</div>
<div class="h" style="left:59px;top:201px;width:581px;transform:scaleX(0.9031)">PERSON PROPERTY</div>
<div class="a" style="left:66px;top:223px;transform:scaleX(0.9281)">LAST MENSTRUAL PERIOD DATE</div>
<div class="a" style="left:66px;top:234px;transform:scaleX(0.9062)">PERSON PROPERTY EFFECTIVE END TIME</div>
<div class="a" style="left:66px;top:245px;transform:scaleX(0.9134)">PERSON PROPERTY OBSERVED DATE</div>
<div class="h" style="left:679px;top:201px;width:121px;transform:scaleX(0.9587)">COUNTRY</div>
<div class="a i" style="left:686px;top:223px;transform:scaleX(0.9634)">COUNTRY CODE</div>
<div class="h" style="left:839px;top:201px;width:181px;transform:scaleX(0.9339)">PERSON DEATH DETAILS</div>
<div class="a i" style="left:846px;top:223px;transform:scaleX(0.9372)">PERSON DEATH DATE</div>
<div class="h" style="left:1059px;top:201px;width:241px;transform:scaleX(0.9781)">PATIENT</div>
<div class="a" style="left:1066px;top:223px;transform:scaleX(0.9560)">NHS NUMBER</div>
<div class="h" style="left:1399px;top:201px;width:161px;transform:scaleX(0.9339)">PERSON NAME</div>
<div class="h" style="left:19px;top:381px;width:361px;transform:scaleX(0.9438)">OTHER PERSON OBSERVATION</div>
<div class="a" style="left:26px;top:403px;transform:scaleX(0.9534)">NUMBER OF HIV CONTACTS</div>
<div class="a" style="left:26px;top:414px;transform:scaleX(0.9257)">YEAR AND MONTH FIRST STARTED ANTIRETROVIRAL THERAPY</div>
<div class="a" style="left:26px;top:425px;transform:scaleX(0.9534)">YEAR AND MONTH OF LAST NEGATIVE HIV TEST IN UNITED KINGDOM</div>
<div class="a" style="left:26px;top:436px;transform:scaleX(0.9558)">YEAR OF DIAGNOSIS OUTSIDE UNITED KINGDOM FOR HIV</div>
<div class="h" style="left:479px;top:381px;width:561px;transform:scaleX(0.9544)">ACTIVITY GROUP</div>
<div class="a" style="left:486px;top:403px;transform:scaleX(0.9525)">PREVIOUS NEGATIVE HIV TEST IN UNITED KINGDOM INDICATOR</div>
<div class="h" style="left:1159px;top:381px;width:161px;transform:scaleX(0.9268)">PRESCRIPTION</div>
<div class="h" style="left:1379px;top:381px;width:201px;transform:scaleX(0.9292)">PERSON NAME STRUCTURED</div>
<div class="h" style="left:119px;top:521px;width:501px;transform:scaleX(0.9402)">CATEGORY VALUED PERSON OBSERVATION</div>
<div class="a" style="left:126px;top:543px;transform:scaleX(0.9079)">PERSON GENDER TYPE</div>
<div class="h" style="left:659px;top:521px;width:241px;transform:scaleX(0.9485)">PATIENT CLINICAL TRIAL STATUS</div>
<div class="a" style="left:666px;top:543px;transform:scaleX(0.9604)">CLINICAL TRIAL INDICATOR</div>
<div class="h" style="left:1139px;top:521px;width:301px;transform:scaleX(0.9162)">PRESCRIBED ITEM</div>
<div class="a" style="left:1146px;top:543px;transform:scaleX(0.9145)">ANTIRETROVIRAL THERAPY DRUG PRESCRIBED CODE</div>
<div class="h" style="left:79px;top:681px;width:161px;transform:scaleX(0.9281)">ETHNIC CATEGORY</div>
<div class="a i" style="left:86px;top:703px;transform:scaleX(0.9377)">ETHNIC CATEGORY CODE</div>
<div class="h" style="left:279px;top:681px;width:201px;transform:scaleX(0.9151)">PERSON GENDER</div>
<div class="a" style="left:286px;top:703px;transform:scaleX(0.9342)">GENDER IDENTITY CODE FOR HIV</div>
<div class="a" style="left:286px;top:714px;transform:scaleX(0.9155)">PERSON GENDER CODE</div>
<div class="h" style="left:499px;top:681px;width:121px;transform:scaleX(0.9669)">DISABILITY</div>
<div class="a" style="left:506px;top:703px;transform:scaleX(0.9446)">DISABILITY CODE</div>
<div class="h" style="left:699px;top:681px;width:621px;transform:scaleX(0.9502)">ACTIVITY</div>
<div class="h" style="left:1359px;top:681px;width:201px;transform:scaleX(0.9524)">PERSON NAME WORD</div>
<div class="a" style="left:1366px;top:703px;transform:scaleX(0.9366)">PERSON NAME WORD TEXT</div>
<div class="a" style="left:1366px;top:714px;transform:scaleX(0.9403)">PERSON NAME WORD TYPE</div>
<div class="h" style="left:499px;top:841px;width:401px;transform:scaleX(0.9253)">CARE ACTIVITY</div>
<div class="h" style="left:939px;top:841px;width:161px;transform:scaleX(0.9896)">ORGANISATION</div>
<div class="a i" style="left:946px;top:863px;transform:scaleX(0.9787)">ORGANISATION CODE</div>
<div class="a" style="left:946px;top:874px;transform:scaleX(0.9002)">PRIMARY CARE TRUST LEVEL</div>
<div class="h" style="left:1179px;top:841px;width:161px;transform:scaleX(0.9675)">ORGANISATION SITE</div>
<div class="a i" style="left:1186px;top:863px;transform:scaleX(0.9546)">ORGANISATION SITE CODE</div>
<div class="h" style="left:279px;top:981px;width:401px;transform:scaleX(0.9085)">CARE CONTACT</div>
<div class="a" style="left:286px;top:1003px;transform:scaleX(0.9383)">ANTIRETROVIRAL THERAPY HOME DELIVERY INDICATOR</div>
<div class="a" style="left:286px;top:1014px;transform:scaleX(0.9325)">ANTIRETROVIRAL THERAPY REGIMEN GROUP CODE</div>
<div class="a" style="left:286px;top:1025px;transform:scaleX(0.9108)">CARE CONTACT TYPE</div>
<div class="a" style="left:286px;top:1036px;transform:scaleX(0.9364)">CLINIC ATTENDANCE PURPOSE CODE FOR HIV</div>
<div class="a" style="left:286px;top:1047px;transform:scaleX(0.9783)">CONSULTATION MEDIUM USED</div>
<div class="a" style="left:286px;top:1058px;transform:scaleX(0.9476)">FIRST ANTIRETROVIRAL THERAPY IN THE UNITED KINGDOM INDICATOR</div>
<div class="a" style="left:286px;top:1069px;transform:scaleX(0.9379)">INITIAL DIAGNOSIS CARE SETTING FOR HIV</div>
<div class="a" style="left:286px;top:1080px;transform:scaleX(0.9744)">NEW HIV DIAGNOSIS IN UNITED KINGDOM INDICATOR</div>
<div class="a" style="left:286px;top:1091px;transform:scaleX(0.9395)">PATIENT EXPOSURE TO HIV</div>
<div class="a" style="left:286px;top:1102px;transform:scaleX(0.9282)">PATIENT HIV CARE STATUS</div>
<div class="a" style="left:286px;top:1113px;transform:scaleX(0.9516)">PREGNANCY INDICATOR FOR HIV</div>
<div class="a" style="left:286px;top:1124px;transform:scaleX(0.9399)">PSYCHIATRIC CARE INDICATOR FOR HIV</div>
<div class="a" style="left:286px;top:1135px;transform:scaleX(0.9436)">SOCIAL WORKER CARE INDICATOR FOR HIV</div>
<div class="h" style="left:719px;top:981px;width:281px;transform:scaleX(0.9509)">CLINICAL INTERVENTION</div>
<div class="a" style="left:726px;top:1003px;transform:scaleX(0.9073)">ANAESTHETIC TYPE FOR JOINT REPLACEMENT</div>
<div class="a" style="left:726px;top:1014px;transform:scaleX(0.9414)">BLOOD TRANSFUSION TYPE</div>
<div class="a" style="left:726px;top:1025px;transform:scaleX(0.9319)">CLINICAL INTERVENTION TYPE</div>
<div class="a" style="left:726px;top:1036px;transform:scaleX(0.9362)">NEWBORN HEARING INCOMPLETE REASON CODE</div>
<div class="a" style="left:726px;top:1047px;transform:scaleX(0.9348)">RESPIRATORY SUPPORT DEVICE TYPE FOR NATIONAL NEONATAL DATA SET</div>
<div class="a" style="left:726px;top:1058px;transform:scaleX(0.9388)">STEROIDS GIVEN DURING PREGNANCY TO MATURE FETAL LUNGS INDICATOR</div>
<div class="a" style="left:726px;top:1069px;transform:scaleX(0.9295)">UNTOWARD INTRAOPERATIVE EVENT CODE FOR HIP REPLACEMENT</div>
</div>
</div></body></html>
